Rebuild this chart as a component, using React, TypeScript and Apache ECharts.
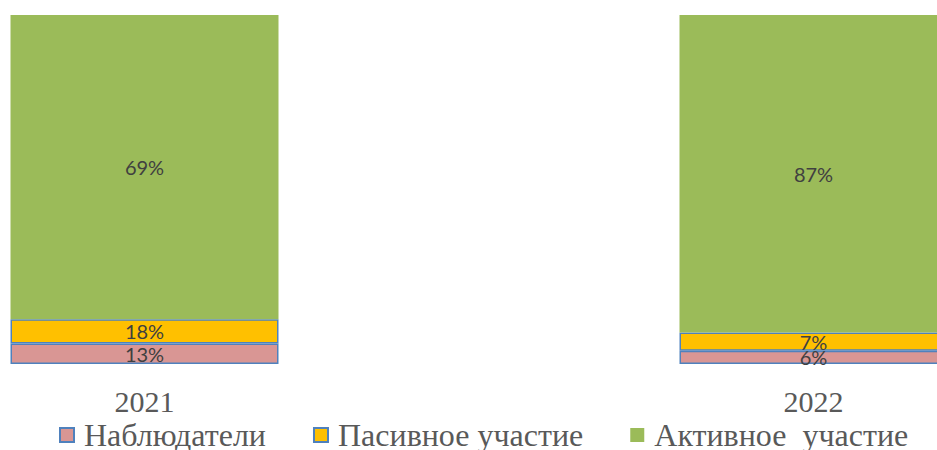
import React, { useEffect, useRef } from "react";
import * as echarts from "echarts";

// Categories (years)
const categories = ["2021", "2022"];

// Series names (legend)
const seriesNames = ["Наблюдатели", "Пасивное участие", "Активное  участие"];

// Percent labels printed on the segments
const observersLabel = [13, 6];
const passiveLabel = [18, 7];
const activeLabel = [69, 87];

// Segment heights as drawn in the picture (axis 0..100)
const observersBar = [5.9, 3.8];
const passiveBar = [6.9, 5.2];
const activeBar = [87.2, 91.0];

const colors = ["#D99694", "#FFC000", "#9BBB59"];
const outline = "#4F81BD";

// The visible picture is a crop of a wider chart
const OFFSET = 190;
const CHART_W = 1338;

export default function App() {
  const ref = useRef<HTMLDivElement>(null);

  useEffect(() => {
    if (!ref.current) return;
    const chart = echarts.init(ref.current, undefined, { renderer: "svg" });

    const labelStyle = (labels: number[]) => ({
      show: true,
      position: "inside",
      fontFamily: "Lato",
      fontSize: 20,
      color: "#404040",
      formatter: (p: any) => labels[p.dataIndex] + "%",
    });

    chart.setOption({
      animation: false,
      backgroundColor: "#ffffff",
      grid: { left: 0, top: 15, width: CHART_W, height: 349 },
      legend: {
        left: 59 + OFFSET,
        top: 419,
        padding: 0,
        itemWidth: 14,
        itemHeight: 14,
        itemGap: 47,
        icon: "rect",
        textStyle: {
          fontFamily: "Liberation Serif",
          fontSize: 32,
          color: "#595959",
          padding: [0, 0, 0, 5],
        },
        data: seriesNames,
      },
      xAxis: {
        type: "category",
        data: categories,
        axisLine: { show: false },
        axisTick: { show: false },
        axisLabel: {
          margin: 22,
          fontFamily: "Liberation Serif",
          fontSize: 30,
          color: "#595959",
        },
      },
      yAxis: {
        type: "value",
        min: 0,
        max: 100,
        show: false,
        splitLine: { show: false },
      },
      series: [
        {
          name: seriesNames[0],
          type: "bar",
          stack: "all",
          barWidth: 268,
          data: observersBar,
          itemStyle: { color: colors[0], borderColor: outline, borderWidth: 1.5 },
          label: labelStyle(observersLabel),
        },
        {
          name: seriesNames[1],
          type: "bar",
          stack: "all",
          barWidth: 268,
          data: passiveBar,
          itemStyle: { color: colors[1], borderColor: outline, borderWidth: 1.5 },
          label: labelStyle(passiveLabel),
        },
        {
          name: seriesNames[2],
          type: "bar",
          stack: "all",
          barWidth: 268,
          data: activeBar,
          itemStyle: { color: colors[2] },
          label: labelStyle(activeLabel),
        },
      ],
    });

    return () => chart.dispose();
  }, []);

  return (
    <div
      style={{
        position: "fixed",
        left: 0,
        top: 0,
        width: 937,
        height: 450,
        overflow: "hidden",
        background: "#fff",
      }}
    >
      <div
        ref={ref}
        style={{ position: "absolute", left: -OFFSET, top: 0, width: CHART_W, height: 450 }}
      />
    </div>
  );
}
